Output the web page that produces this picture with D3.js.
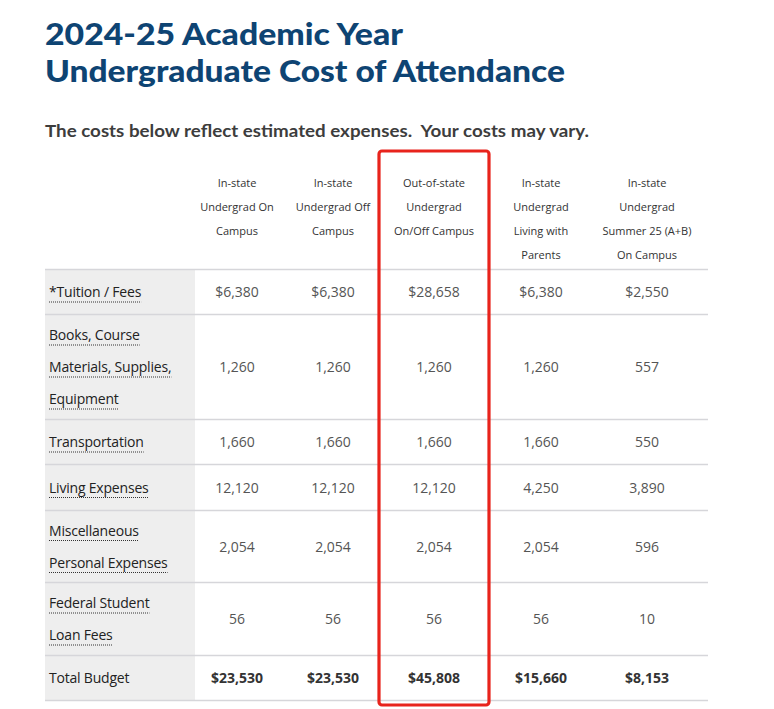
<!DOCTYPE html>
<html><head><meta charset="utf-8">
<script src="https://cdn.jsdelivr.net/npm/d3@7/dist/d3.min.js"></script>
<style>html,body{margin:0;padding:0;background:#fff;}svg{display:block;}</style>
</head><body>
<svg id="chart" width="774" height="709"></svg>
<script>
// ---- data ----
const titleLines = ["2024-25 Academic Year", "Undergraduate Cost of Attendance"];
const subtitle = "The costs below reflect estimated expenses.  Your costs may vary.";
const columns = [
  ["In-state", "Undergrad On", "Campus"],
  ["In-state", "Undergrad Off", "Campus"],
  ["Out-of-state", "Undergrad", "On/Off Campus"],
  ["In-state", "Undergrad", "Living with", "Parents"],
  ["In-state", "Undergrad", "Summer 25 (A+B)", "On Campus"]
];
const categories = [
  ["*Tuition / Fees"],
  ["Books, Course", "Materials, Supplies,", "Equipment"],
  ["Transportation"],
  ["Living Expenses"],
  ["Miscellaneous", "Personal Expenses"],
  ["Federal Student", "Loan Fees"],
  ["Total Budget"]
];
const inStateOn      = ["$6,380", "1,260", "1,660", "12,120", "2,054", "56", "$23,530"];
const inStateOff     = ["$6,380", "1,260", "1,660", "12,120", "2,054", "56", "$23,530"];
const outOfState     = ["$28,658", "1,260", "1,660", "12,120", "2,054", "56", "$45,808"];
const inStateParents = ["$6,380", "1,260", "1,660", "4,250", "2,054", "56", "$15,660"];
const summer         = ["$2,550", "557", "550", "3,890", "596", "10", "$8,153"];
const series = [inStateOn, inStateOff, outOfState, inStateParents, summer];
const highlightColumn = 2;

// ---- layout ----
const svg = d3.select("#chart");
const left = 45, right = 708, labelColW = 150;
const colCenters = [237, 333, 434, 541, 647];
const headerTop = 151, headerBottom = 269;
const rowHeights = [45, 105, 45, 46, 72, 73, 45];
const lineH = 32;
const titleWidths = [358, 520];

const x = d3.scaleOrdinal().domain(d3.range(columns.length)).range(colCenters);
const rowEdges = [headerBottom];
rowHeights.forEach(h => rowEdges.push(rowEdges[rowEdges.length - 1] + h));
const y = d3.scaleOrdinal().domain(d3.range(categories.length)).range(rowEdges.slice(0, -1));

// title
svg.append("g").selectAll("text").data(titleLines).join("text")
  .attr("x", left).attr("y", (d, i) => 45 + i * 37)
  .attr("font-family", "Lato, 'Open Sans', sans-serif")
  .attr("font-weight", 900).attr("font-size", 31)
  .attr("textLength", (d, i) => titleWidths[i]).attr("lengthAdjust", "spacingAndGlyphs")
  .attr("fill", "#0e4473").text(d => d);

svg.append("text").attr("x", left).attr("y", 137)
  .attr("font-family", "Lato, 'Open Sans', sans-serif")
  .attr("font-weight", 700).attr("font-size", 17)
  .attr("textLength", 544).attr("lengthAdjust", "spacingAndGlyphs")
  .attr("fill", "#3d3d3d").attr("xml:space", "preserve").style("white-space", "pre").text(subtitle);

// label column background
svg.append("rect").attr("x", left).attr("y", headerBottom)
  .attr("width", labelColW).attr("height", rowEdges[rowEdges.length - 1] - headerBottom)
  .attr("fill", "#eeeeee");

// row borders
svg.append("g").selectAll("line").data(rowEdges).join("line")
  .attr("x1", left).attr("x2", right).attr("y1", d => d + 0.5).attr("y2", d => d + 0.5)
  .attr("stroke", "#d6d6da").attr("stroke-width", 1.3);

// header
const hdr = svg.append("g").attr("font-family", "'Open Sans', sans-serif")
  .attr("font-size", 11).attr("fill", "#333").attr("text-anchor", "middle");
columns.forEach((lines, ci) => {
  hdr.selectAll(null).data(lines).join("text")
    .attr("x", x(ci)).attr("y", (d, i) => 183 + i * 24).attr("dy", "0.35em").text(d => d);
});

// row labels
const lab = svg.append("g").attr("font-family", "'Open Sans', sans-serif")
  .attr("font-size", 14).attr("fill", "#222");
categories.forEach((lines, ri) => {
  const cy = y(ri) + rowHeights[ri] / 2;
  const isTotal = ri === categories.length - 1;
  lines.forEach((t, li) => {
    const ty = cy + (li - (lines.length - 1) / 2) * lineH + 1;
    const txt = lab.append("text").attr("x", left + 4).attr("y", ty).attr("dy", "0.35em")
      .attr("letter-spacing", "-0.2").text(t);
    if (!isTotal) {
      const w = txt.node().getComputedTextLength();
      lab.append("line").attr("x1", left + 4).attr("x2", left + 4 + w)
        .attr("y1", ty + 9.5).attr("y2", ty + 9.5)
        .attr("stroke", "#333").attr("stroke-width", 1).attr("stroke-dasharray", "1,1");
    }
  });
});

// values
const vals = svg.append("g").attr("font-family", "'Open Sans', sans-serif")
  .attr("font-size", 14).attr("text-anchor", "middle");
series.forEach((s, ci) => {
  vals.selectAll(null).data(s).join("text")
    .attr("x", x(ci)).attr("y", (d, ri) => y(ri) + rowHeights[ri] / 2 + 1).attr("dy", "0.35em")
    .attr("fill", (d, ri) => ri === categories.length - 1 ? "#333" : "#555")
    .attr("font-weight", (d, ri) => ri === categories.length - 1 ? 700 : 400)
    .text(d => d);
});

// highlight box around the highlighted column
const boxW = 110;
svg.append("rect").attr("x", x(highlightColumn) - boxW / 2).attr("y", headerTop)
  .attr("width", boxW).attr("height", 554)
  .attr("rx", 3).attr("fill", "none").attr("stroke", "#e8231c").attr("stroke-width", 3.2);
</script>
</body></html>
